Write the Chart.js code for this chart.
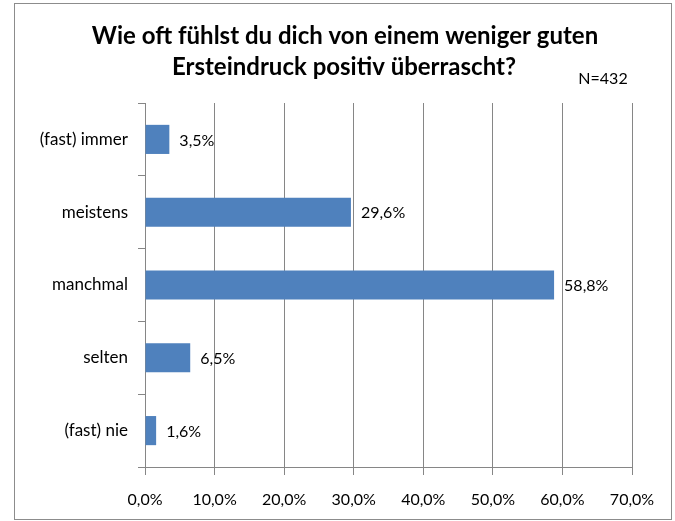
<!DOCTYPE html>
<html>
<head>
<meta charset="utf-8">
<script src="https://cdn.jsdelivr.net/npm/chart.js@4"></script>
<style>
    body { margin: 0; background: #fff; }
    #wrap { position: relative; width: 675px; height: 521px; }
    #frame { position: absolute; left: 14px; top: 3px; width: 656px; height: 515px; border: 1px solid #8c8c8c; pointer-events: none; }
    canvas { position: absolute; left: 0; top: 0; }
</style>
</head>
<body>
<div id="wrap">
    <canvas id="chart" width="675" height="521"></canvas>
    <div id="frame"></div>
</div>
<script>
// Chart data
const categories = ['(fast) immer', 'meistens', 'manchmal', 'selten', '(fast) nie'];
const shares = [3.5, 29.6, 58.8, 6.5, 1.6];
const xTicks = [0, 10, 20, 30, 40, 50, 60, 70];
const titleLines = ['Wie oft fühlst du dich von einem weniger guten', 'Ersteindruck positiv überrascht?'];
const sampleNote = 'N=432';

const FONT = 'Lato, "Open Sans", sans-serif';
const GRID = '#868686';

// Helper: German percent format
function pct(v) {
    return v.toFixed(1).replace('.', ',') + '%';
}

// Draws the value next to each bar
const valueLabels = {
    id: 'valueLabels',
    afterDatasetsDraw(chart) {
        const ctx = chart.ctx;
        const meta = chart.getDatasetMeta(0);
        ctx.save();
        ctx.font = '16px ' + FONT;
        ctx.fillStyle = '#000';
        ctx.textBaseline = 'middle';
        ctx.textAlign = 'left';
        meta.data.forEach((bar, i) => {
            ctx.fillText(pct(shares[i]), bar.x + 10, bar.y + 1);
        });
        ctx.restore();
    }
};

// Title and sample size note
const headerText = {
    id: 'headerText',
    afterDraw(chart) {
        const ctx = chart.ctx;
        ctx.save();
        ctx.fillStyle = '#000';
        ctx.textAlign = 'center';
        ctx.textBaseline = 'alphabetic';
        ctx.font = 'bold 24px ' + FONT;
        ctx.fillText(titleLines[0], 345, 44);
        ctx.fillText(titleLines[1], 344, 75);
        ctx.font = '16px ' + FONT;
        ctx.fillText(sampleNote, 603, 84);
        ctx.restore();
    }
};

new Chart(document.getElementById('chart').getContext('2d'), {
    type: 'bar',
    data: {
        labels: categories,
        datasets: [{
            data: shares,
            backgroundColor: '#4F81BD',
            borderWidth: 0,
            categoryPercentage: 1,
            barPercentage: 0.4
        }]
    },
    options: {
        indexAxis: 'y',
        responsive: false,
        animation: false,
        layout: { padding: { left: 20, right: 43, top: 103, bottom: 0 } },
        plugins: {
            legend: { display: false },
            tooltip: { enabled: false },
            title: { display: false }
        },
        scales: {
            x: {
                min: 0,
                max: 70,
                afterBuildTicks(scale) {
                    scale.ticks = xTicks.map(v => ({ value: v }));
                },
                afterFit(scale) { scale.height = 54; },
                grid: { color: GRID, lineWidth: 1, tickLength: 8 },
                border: { color: GRID, width: 1 },
                ticks: {
                    color: '#000',
                    padding: 15,
                    maxRotation: 0,
                    font: { family: FONT, size: 16 },
                    callback: v => pct(v)
                }
            },
            y: {
                afterFit(scale) { scale.width = 125; },
                grid: { display: true, drawOnChartArea: false, color: GRID, tickLength: 7, offset: true },
                border: { color: GRID, width: 1 },
                ticks: {
                    color: '#000',
                    padding: 10,
                    font: { family: FONT, size: 17 }
                }
            }
        }
    },
    plugins: [valueLabels, headerText]
});
</script>
</body>
</html>
